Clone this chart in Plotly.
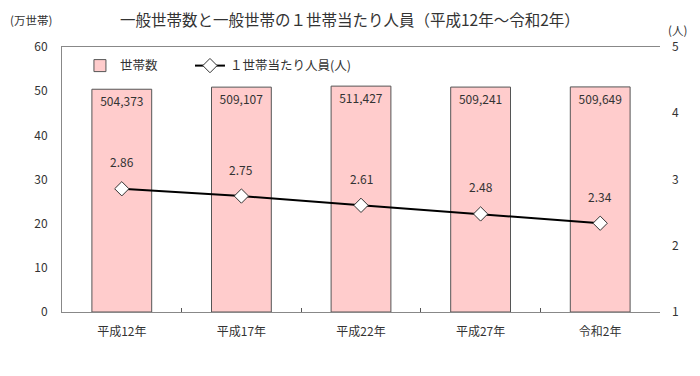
import plotly.graph_objects as go

categories = ["平成12年", "平成17年", "平成22年", "平成27年", "令和2年"]
households = [504373, 509107, 511427, 509241, 509649]
persons_per_household = [2.86, 2.75, 2.61, 2.48, 2.34]

households_man = [v / 10000 for v in households]
FONT = "Noto Sans CJK JP"

fig = go.Figure()
fig.add_trace(go.Bar(
    x=categories, y=households_man, name="世帯数",
    marker=dict(color="#FFCCCC", line=dict(color="#555555", width=1)),
    width=0.5, legend="legend",
    text=[f"{v:,}" for v in households], textposition="inside",
    insidetextanchor="end", textfont=dict(size=12, color="#333333", family=FONT),
    textangle=0, hoverinfo="skip",
))
fig.add_trace(go.Scatter(
    x=categories, y=persons_per_household, name="１世帯当たり人員(人)",
    mode="lines+markers", yaxis="y2", legend="legend2",
    line=dict(color="black", width=2),
    marker=dict(symbol="diamond", size=11, color="white", line=dict(color="#333333", width=1)),
))
for c, v in zip(categories, persons_per_household):
    fig.add_annotation(x=c, y=v, yref="y2", text=f"{v:.2f}", showarrow=False,
                       yshift=27, font=dict(size=12, color="#333333", family=FONT))

fig.add_annotation(text="(万世帯)", xref="paper", yref="paper", x=0, y=1, xshift=-54, yshift=27,
                   xanchor="left", yanchor="middle", showarrow=False,
                   font=dict(size=11.5, color="#333333", family=FONT))
fig.add_annotation(text="(人)", xref="paper", yref="paper", x=1, y=1, xshift=6, yshift=17,
                   xanchor="left", yanchor="middle", showarrow=False,
                   font=dict(size=11.5, color="#333333", family=FONT))

legend_style = dict(orientation="h", y=0.985, xanchor="left", yanchor="top",
                    bgcolor="rgba(0,0,0,0)", font=dict(size=12.5, family=FONT))

# page body has an 8px margin, so the figure is sized and offset to compensate
fig.update_layout(
    width=692, height=368,
    margin=dict(l=54, r=40, t=39, b=64, autoexpand=False),
    paper_bgcolor="white", plot_bgcolor="white",
    font=dict(family=FONT, size=12, color="#333333"),
    title=dict(text="一般世帯数と一般世帯の１世帯当たり人員（平成12年～令和2年）",
               x=0.494, xanchor="center", y=0.967, yanchor="middle",
               font=dict(size=15.5, color="#333333", family=FONT)),
    showlegend=True,
    legend=dict(x=0.03, **legend_style),
    legend2=dict(x=0.214, **legend_style),
    bargap=0.5,
    xaxis=dict(showline=True, linecolor="#888888", linewidth=1, mirror=True,
               ticks="inside", ticklen=4, tickcolor="#555555", tickson="boundaries",
               tickfont=dict(size=12), showgrid=False, automargin=False,
               ticklabelstandoff=9),
    yaxis=dict(range=[0, 60], dtick=10, showgrid=False, showline=True,
               linecolor="#888888", linewidth=1, ticks="", ticklabelstandoff=11,
               tickfont=dict(size=12), zeroline=False, automargin=False),
    yaxis2=dict(range=[1, 5], dtick=1, overlaying="y", side="right", showgrid=False,
                showline=False, ticks="", ticklabelstandoff=11, tickfont=dict(size=12),
                zeroline=False, automargin=False),
)

fig.write_html("out.html")
